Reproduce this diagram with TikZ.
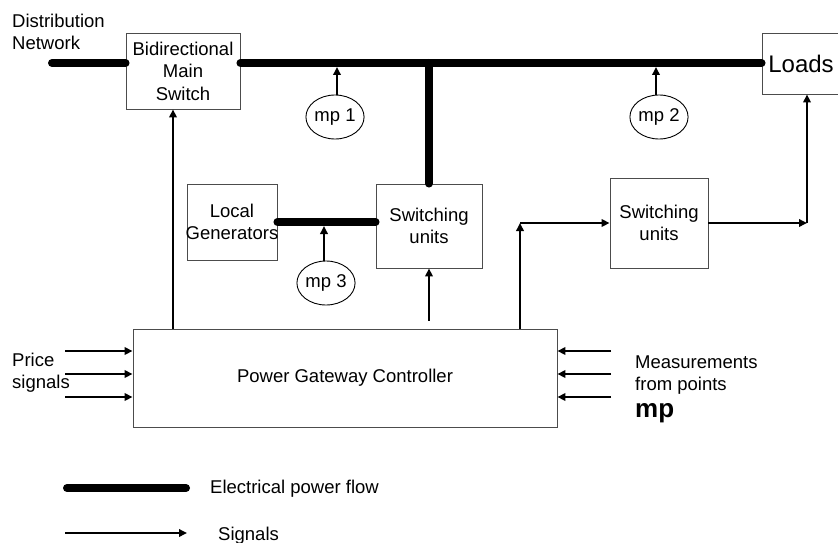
\documentclass[tikz,border=0pt]{standalone}
\usepackage{fontspec}
\setmainfont{Liberation Sans}
\usetikzlibrary{arrows.meta,shapes.geometric,calc}
\begin{document}
\begin{tikzpicture}[x=1pt,y=-1pt,
 txt/.style={font=\fontsize{18.5}{22}\selectfont, inner sep=0pt},
 blk/.style={draw=black!70, line width=0.9pt, fill=white, align=center, inner sep=0pt, font=\fontsize{18.5}{22.5}\selectfont},
 mpnode/.style={ellipse, draw, line width=0.9pt, minimum width=54pt, minimum height=44pt, inner sep=0pt, font=\fontsize{18.5}{22}\selectfont},
 power/.style={line width=8pt, line cap=round},
 sig/.style={line width=1.8pt, -{Triangle[length=8pt,width=7.5pt]}},
]
\useasboundingbox (0,0) rectangle (838,543);

% nodes
\node[txt, align=left, anchor=west] (dn) at (12,32) {Distribution\\Network};
\node[blk, minimum width=114pt, minimum height=76pt] (bms) at (183,71) {Bidirectional\\Main\\Switch};
\node[blk, minimum width=78pt, minimum height=61pt, font=\fontsize{24}{28}\selectfont] (loads) at (801,63.5) {Loads};
\node[blk, minimum width=90pt, minimum height=76pt] (lg) at (232,222) {Local\\\makebox[0pt]{Generators}};
\node[blk, minimum width=106pt, minimum height=84pt] (sw1) at (429,226) {Switching\\units};
\node[blk, minimum width=98pt, minimum height=90pt] (sw2) at (659,223) {Switching\\units};
\node[blk, minimum width=424pt, minimum height=98pt] (pgc) at (345,378) {Power Gateway Controller};
\node[mpnode] (mp1) at (335,117) {mp 1};
\node[mpnode] (mp2) at (659,117) {mp 2};
\node[mpnode] (mp3) at (326,283) {mp 3};

% power flow
\coordinate (netL) at (52,63);
\draw[power] (netL) -- (netL -| bms.west);
\draw[power] (bms.east |- netL) -- (loads.west |- netL);
\draw[power] (sw1.north |- netL) -- (sw1.north);
\draw[power] (lg.east) -- (lg.east -| sw1.west);

% measurement arrows
\draw[sig] ([xshift=2pt]mp1.north) -- ($([xshift=2pt]mp1.north |- netL)+(0,4)$);
\draw[sig] ([xshift=-3pt]mp2.north) -- ($([xshift=-3pt]mp2.north |- netL)+(0,4)$);
\draw[sig] ([xshift=-2pt]mp3.north) -- ($([xshift=-2pt]mp3.north |- lg.east)+(0,4)$);

% control signals
\coordinate (ms) at ([xshift=-10pt]bms.south);
\draw[sig] (pgc.north -| ms) -- (ms);
\draw[sig] ($(pgc.north -| sw1.south)+(0,-8)$) -- (sw1.south);
\coordinate (c1) at (520,223);
\draw[sig] (pgc.north -| c1) -- (c1);
\draw[sig] (c1) -- (sw2.west);
\coordinate (c2) at (807,223);
\draw[sig] (sw2.east) -- (c2);
\draw[sig] (c2) -- (c2 |- loads.south);

% inputs
\foreach \y in {351,374,397} {
  \coordinate (p\y) at (65,\y);
  \draw[sig] (p\y) -- (p\y -| pgc.west);
  \coordinate (m\y) at (611,\y);
  \draw[sig] (m\y) -- (m\y -| pgc.east);
}
\node[txt, align=left, anchor=west] (price) at (12,373) {Price\\signals};
\node[txt, align=left, anchor=west] (meas) at (635,375) {Measurements\\from points};
\node[txt, anchor=west, font=\bfseries\fontsize{26}{30}\selectfont] (mpl) at (635,413) {mp};

% legend
\coordinate (l1a) at (67,488);
\coordinate (l1b) at (186,488);
\draw[power] (l1a) -- (l1b);
\node[txt, anchor=west] (lt1) at (210,489) {Electrical power flow};
\coordinate (l2a) at (65,533);
\coordinate (l2b) at (187,533);
\draw[sig] (l2a) -- (l2b);
\node[txt, anchor=west] (lt2) at (218,536) {Signals};
\end{tikzpicture}
\end{document}
